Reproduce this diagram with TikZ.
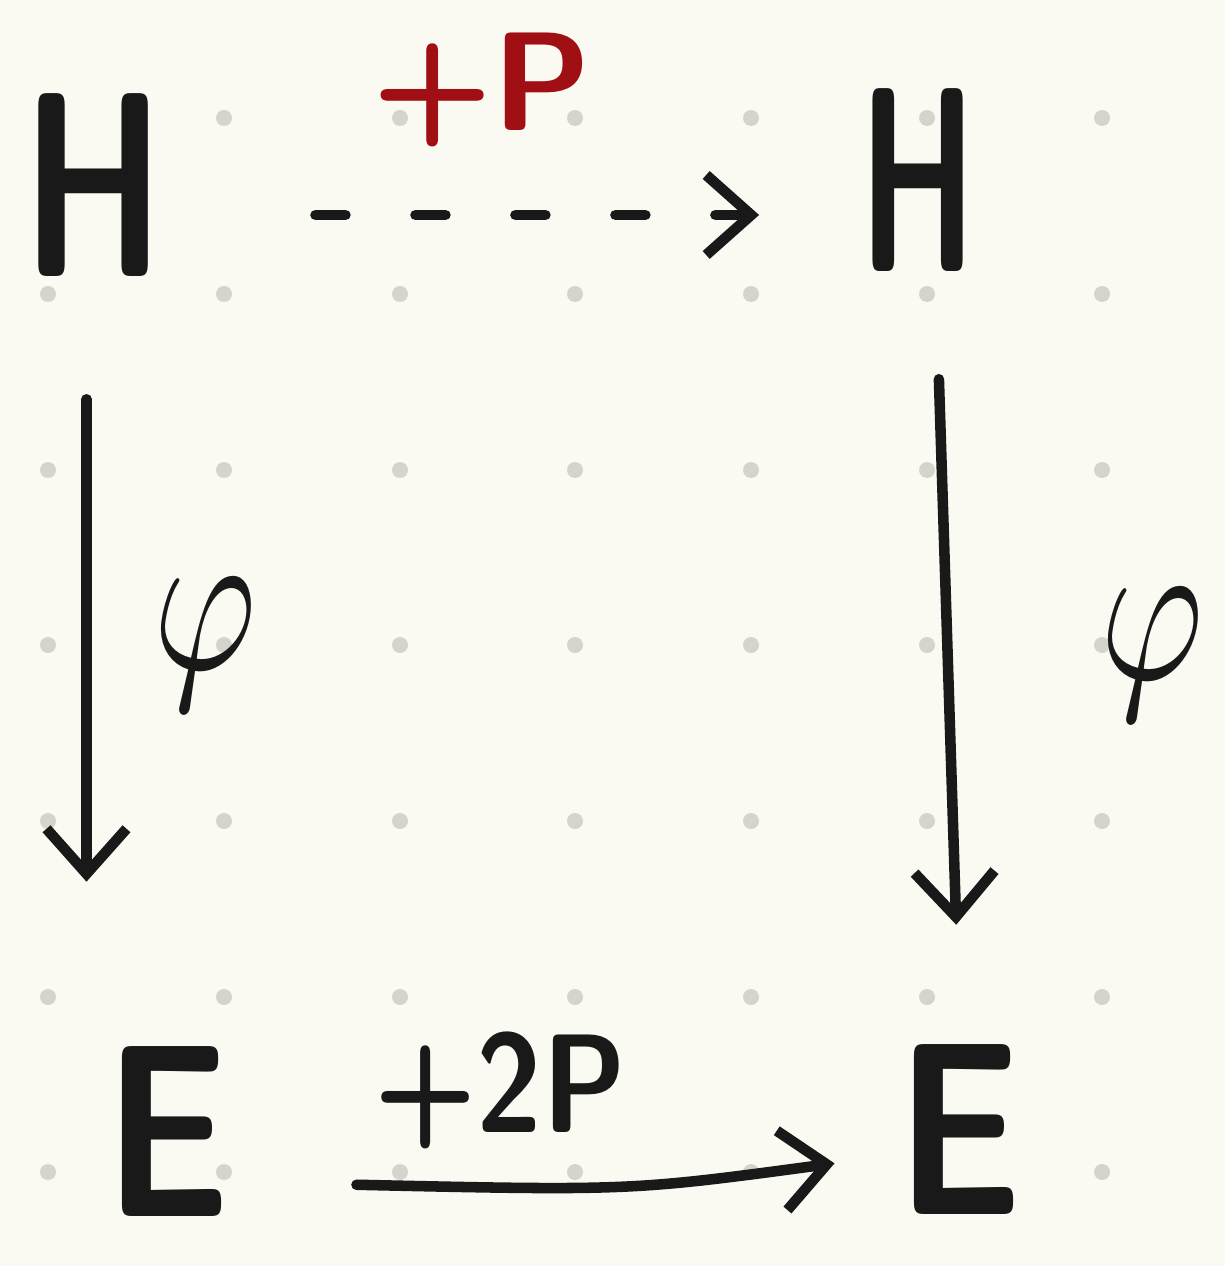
\documentclass[tikz,border=0pt]{standalone}
\usepackage{tikz}
\usetikzlibrary{arrows.meta,calc,positioning}
\definecolor{paper}{RGB}{250,250,242}
\definecolor{griddot}{RGB}{212,212,205}
\definecolor{ink}{RGB}{25,25,25}
\definecolor{redink}{RGB}{160,15,20}
\newcommand\narrow[2]{\scalebox{#1}[1]{#2}}
\tikzset{
  obj/.style={
    inner sep = 0pt,
    text = ink,
    font = \sffamily\bfseries\fontsize{150}{155}\selectfont
  },
  lowobj/.style={
    obj,
    font = \sffamily\bfseries\fontsize{140}{142}\selectfont
  },
  maplabel/.style={
    inner sep = 0pt,
    text = ink,
    font = \sffamily\bfseries\fontsize{80}{84}\selectfont
  },
  phi/.style={
    inner sep = 0pt,
    text = ink
  },
  maparrow/.style={
    draw = ink,
    line width = 6pt,
    line cap = round,
    -{Straight Barb[length=0.9cm,width=1.6cm,line width=6pt]}
  },
  dashmap/.style={
    maparrow,
    dash pattern = on 0.6cm off 1.4cm
  }
}
\begin{document}
\begin{tikzpicture}[x=0.02cm,y=-0.02cm]
        \fill[paper] (0,0) rectangle (1225,1266);
        \useasboundingbox (0,0) rectangle (1225,1266);

        % dot grid
        \foreach \x in {48,224,400,575,751,927,1102}
          \foreach \y in {118,294,470,645,821,997,1172}
            \fill[griddot] (\x,\y) circle (0.16cm);

        \node[obj] (H1) at (94,185) {\narrow{0.68}{H}};
        \node[obj] (H2) at (918,180) {\narrow{0.56}{H}};
        \node[lowobj] (E1) at (168,1132) {\narrow{0.8}{E}};
        \node[lowobj] (E2) at (960,1130) {\narrow{0.8}{E}};

        \node[maplabel, text=redink] (plusP) at (482,90) {+P};
        \node[maplabel] (plus2P) at (500,1090) {\narrow{0.85}{+2P}};
        \node[phi] (phiL) at (205,645) {\scalebox{9}[12]{$\varphi$}};
        \node[phi] (phiR) at (1152,655) {\scalebox{9}[12]{$\varphi$}};

        \draw[dashmap, shorten <=3cm, shorten >=2cm]
          ([yshift=-0.6cm]H1.east) -- ([yshift=-0.6cm]H1.east -| H2.west);
        \draw[maparrow, shorten <=2.45cm, shorten >=3.3cm]
          ([xshift=-0.15cm]H1.south) -- ([xshift=-0.15cm]H1.south |- E1.north);
        \draw[maparrow, shorten <=2.15cm, shorten >=2.4cm]
          ([xshift=0.35cm]H2.south) -- (E2.north);
        \draw[maparrow, shorten <=2.5cm, shorten >=1.25cm]
          ([yshift=-1cm]E1.east) .. controls ($([yshift=-1.2cm]E1.east)!0.6!([yshift=-1.2cm]E2.west)$) .. ([yshift=-0.5cm]E2.west);
\end{tikzpicture}
\end{document}
